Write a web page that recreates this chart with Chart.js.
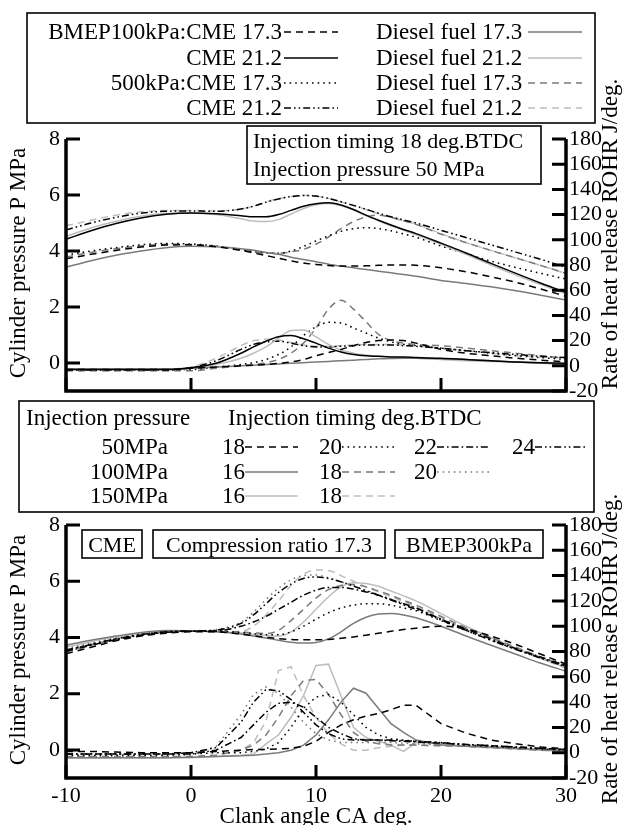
<!DOCTYPE html>
<html>
<head>
<meta charset="utf-8">
<script src="https://cdn.jsdelivr.net/npm/chart.js@4.4.1/dist/chart.umd.min.js"></script>
<style>
  body { margin: 0; background: #fff; }
  #wrap { position: relative; width: 626px; height: 825px; overflow: hidden; }
  canvas, svg { position: absolute; left: 0; top: 0; }
</style>
</head>
<body>
<div id="wrap">
  <canvas id="topChart" width="626" height="825"></canvas>
  <canvas id="bottomChart" width="626" height="825"></canvas>
  <svg id="legend" width="626" height="825" xmlns="http://www.w3.org/2000/svg"></svg>
</div>
<script>
// crank angle grid, deg
const angle = [-10, -8, -6, -4, -2, 0, 2, 4, 5, 6, 7, 8, 9, 10, 11, 12, 13, 14, 15, 16, 17, 18, 20, 22, 24, 26, 28, 30];
const xTicks = [-10, 0, 10, 20, 30];
const pTicks = [0, 2, 4, 6, 8];

// top chart: cylinder pressure, MPa
const p100Cme173 = [3.72, 3.88, 4.02, 4.14, 4.21, 4.22, 4.15, 4.02, 3.93, 3.84, 3.74, 3.65, 3.57, 3.52, 3.48, 3.46, 3.46, 3.47, 3.49, 3.5, 3.5, 3.49, 3.4, 3.26, 3.08, 2.88, 2.64, 2.38];
const p100Cme212 = [4.42, 4.72, 4.98, 5.18, 5.31, 5.36, 5.33, 5.26, 5.22, 5.22, 5.3, 5.45, 5.6, 5.69, 5.72, 5.64, 5.48, 5.28, 5.1, 4.93, 4.77, 4.62, 4.28, 3.93, 3.56, 3.2, 2.85, 2.52];
const p100Die173 = [3.42, 3.65, 3.85, 4.0, 4.12, 4.17, 4.15, 4.08, 4.03, 3.95, 3.88, 3.78, 3.7, 3.62, 3.53, 3.46, 3.4, 3.34, 3.28, 3.22, 3.16, 3.1, 2.95, 2.84, 2.72, 2.58, 2.42, 2.25];
const p100Die212 = [4.52, 4.82, 5.06, 5.24, 5.34, 5.36, 5.3, 5.15, 5.07, 5.05, 5.12, 5.32, 5.52, 5.65, 5.7, 5.62, 5.46, 5.26, 5.08, 4.9, 4.74, 4.58, 4.24, 3.88, 3.5, 3.14, 2.8, 2.46];
const p500Cme173 = [3.85, 4.0, 4.12, 4.22, 4.27, 4.25, 4.18, 4.05, 3.98, 3.93, 3.92, 4.0, 4.16, 4.36, 4.54, 4.7, 4.8, 4.83, 4.8, 4.72, 4.61, 4.49, 4.18, 3.9, 3.64, 3.41, 3.2, 3.0];
const p500Cme212 = [4.75, 5.0, 5.2, 5.35, 5.42, 5.43, 5.42, 5.5, 5.6, 5.74, 5.86, 5.94, 5.98, 5.96, 5.88, 5.76, 5.63, 5.49, 5.35, 5.22, 5.11, 5.0, 4.74, 4.48, 4.22, 3.96, 3.7, 3.42];
const p500Die173 = [3.78, 3.95, 4.08, 4.18, 4.24, 4.23, 4.17, 4.05, 3.98, 3.93, 3.92, 3.97, 4.06, 4.24, 4.5, 4.8, 5.05, 5.22, 5.28, 5.2, 5.08, 4.95, 4.6, 4.3, 4.02, 3.75, 3.48, 3.2];
const p500Die212 = [4.9, 5.1, 5.28, 5.4, 5.45, 5.45, 5.43, 5.5, 5.6, 5.75, 5.87, 5.95, 5.99, 5.96, 5.88, 5.75, 5.62, 5.48, 5.33, 5.2, 5.08, 4.96, 4.62, 4.3, 4.02, 3.75, 3.48, 3.2];

// top chart: rate of heat release, J/deg
const r100Cme173 = [-3, -3, -3, -3, -3, -2, -1, 0, 0.5, 1, 2, 3, 5, 8, 10.5, 13, 16, 18.5, 20, 20.5, 20, 18, 13, 10, 8, 6, 4.5, 3];
const r100Cme212 = [-3, -3, -3, -3, -3, -1.5, 2, 10, 15, 19.5, 23, 24, 21.5, 18, 14, 11, 9, 8, 7.5, 7, 7, 6.5, 6, 5, 4, 3, 2.5, 2];
const r100Die173 = [-2.5, -2.5, -2.5, -2.5, -2.5, -2, -1, 0, 0.5, 1, 1.5, 2, 2.5, 3, 3.5, 4, 4.5, 5, 5.5, 5.8, 6, 6, 5.5, 5, 4, 3, 2.2, 1.5];
const r100Die212 = [-3, -3, -3, -3, -3, -2, 1, 6, 10, 15, 22, 28, 28.5, 23, 17, 12.5, 10, 8.5, 7.5, 7, 6.5, 6, 5, 4, 3.5, 3, 2, 1.5];
const r500Cme173 = [-3, -3, -3, -3, -3, -3, -1, 1, 2.5, 5, 9, 15, 24, 31, 34.5, 34, 30, 26, 22, 19, 17, 16, 14, 12, 10, 8, 6.5, 5];
const r500Cme212 = [-3.5, -3.5, -3.5, -3.5, -3.5, -1.5, 4, 13, 17, 19, 19.5, 18, 16, 15, 15, 15.5, 16, 16.5, 16.5, 16.5, 16, 15.5, 14, 12, 10.5, 9, 7.5, 6.5];
const r500Die173 = [-4, -4, -4, -4, -4, -4, -2, 0, 1, 2.5, 5, 10, 18, 30, 45, 52, 45, 35, 25, 20, 18, 17, 16, 14, 12, 10, 8, 6];
const r500Die212 = [-4, -4, -4, -4, -4, -1, 6, 16, 20, 21, 20.5, 18.5, 16.5, 15.5, 15.5, 16, 16.5, 17, 17, 17, 16.5, 16, 14, 12, 10, 8, 7, 6];

// bottom chart: cylinder pressure, MPa (name = timing_injection pressure)
const bp18_50 = [3.42, 3.65, 3.88, 4.05, 4.15, 4.2, 4.2, 4.12, 4.06, 4.0, 3.96, 3.93, 3.92, 3.92, 3.93, 3.97, 4.02, 4.08, 4.15, 4.22, 4.28, 4.33, 4.4, 4.3, 4.05, 3.75, 3.4, 3.05];
const bp20_50 = [3.55, 3.75, 3.95, 4.1, 4.2, 4.22, 4.22, 4.17, 4.13, 4.1, 4.1, 4.2, 4.4, 4.65, 4.88, 5.05, 5.15, 5.2, 5.2, 5.15, 5.05, 4.95, 4.6, 4.25, 3.9, 3.58, 3.28, 2.98];
const bp22_50 = [3.5, 3.72, 3.92, 4.08, 4.18, 4.22, 4.23, 4.4, 4.55, 4.75, 5.0, 5.25, 5.5, 5.68, 5.78, 5.78, 5.72, 5.62, 5.5, 5.35, 5.2, 5.05, 4.65, 4.3, 3.95, 3.6, 3.3, 3.0];
const bp24_50 = [3.55, 3.75, 3.95, 4.1, 4.2, 4.23, 4.26, 4.5, 4.8, 5.2, 5.6, 5.9, 6.1, 6.15, 6.1, 5.98, 5.83, 5.66, 5.5, 5.33, 5.16, 5.0, 4.62, 4.25, 3.9, 3.57, 3.26, 2.95];
const bp16_100 = [3.72, 3.9, 4.05, 4.18, 4.25, 4.24, 4.2, 4.12, 4.05, 3.98, 3.9, 3.83, 3.8, 3.82, 3.95, 4.2, 4.5, 4.72, 4.83, 4.85, 4.8, 4.7, 4.4, 4.05, 3.72, 3.4, 3.08, 2.8];
const bp18_100 = [3.5, 3.72, 3.92, 4.08, 4.18, 4.22, 4.21, 4.2, 4.16, 4.14, 4.25, 4.6, 5.0, 5.4, 5.7, 5.85, 5.88, 5.8, 5.65, 5.5, 5.32, 5.15, 4.75, 4.35, 4.0, 3.65, 3.3, 3.0];
const bp20_100 = [3.6, 3.8, 3.98, 4.12, 4.2, 4.23, 4.28, 4.55, 4.9, 5.35, 5.75, 6.05, 6.2, 6.22, 6.12, 5.98, 5.84, 5.68, 5.52, 5.36, 5.2, 5.05, 4.66, 4.28, 3.92, 3.58, 3.27, 2.96];
const bp16_150 = [3.65, 3.85, 4.02, 4.15, 4.22, 4.23, 4.2, 4.16, 4.11, 4.07, 4.05, 4.2, 4.55, 5.0, 5.45, 5.8, 5.95, 5.92, 5.82, 5.65, 5.48, 5.3, 4.85, 4.4, 4.0, 3.62, 3.26, 2.92];
const bp18_150 = [3.55, 3.76, 3.95, 4.1, 4.19, 4.22, 4.21, 4.22, 4.4, 4.8, 5.3, 5.85, 6.25, 6.4, 6.38, 6.2, 6.0, 5.8, 5.62, 5.45, 5.28, 5.1, 4.7, 4.3, 3.95, 3.6, 3.25, 2.9];

// bottom chart: rate of heat release, J/deg
const br18_50 = [1, 1, 0.5, 0, 0, 0, 1, 2, 2.5, 2.5, 3, 3.5, 5, 9, 16, 22, 26, 29, 31, 34, 37.5, 37.5, 23, 15.5, 10, 7, 4.5, 3];
const br20_50 = [-2, -2, -2, -2, -2, -1, 0, 0, 1, 3, 8, 20, 35, 44, 46, 40, 30, 20, 14, 11, 10, 9, 8, 6, 5, 4, 3, 2];
const br22_50 = [-1, -1, -1, -1, -1, -1, 2, 12, 22, 32, 39, 40, 36, 28, 20, 15, 11, 10, 10, 9.5, 9, 8.5, 7.5, 6.5, 5.5, 4.5, 3.5, 2.5];
const br24_50 = [-1, -1, -1, -1, -1, 0, 4, 24, 40, 50, 49, 42, 32, 22, 15, 11, 10, 10, 10, 10, 9.5, 9, 8, 6.5, 5.5, 4.5, 3.5, 2.5];
const br16_100 = [-4, -4, -4, -4, -4, -3.5, -3, -2.5, -2, -1, 0, 2, 6, 14, 26, 40, 51, 47, 35, 23, 16, 10, 6, 5, 4.5, 3.5, 2.5, 1.5];
const br18_100 = [-3, -3, -3, -3, -3, -3, -2, 2, 6, 14, 28, 45, 57, 58, 46, 30, 16, 9, 7, 6, 6, 6, 5.5, 5, 4, 3, 2, 1.5];
const br20_100 = [-3, -3, -3, -3, -3, -2, 5, 30, 46, 52, 47, 36, 24, 15, 10, 8, 8, 8, 8, 8, 7.5, 7, 6.5, 5.5, 4.5, 3.5, 2.5, 2];
const br16_150 = [-4, -4, -4, -4, -4, -4, -3, -2, -1, 7, 14, 28, 45, 69, 70, 45, 20, 12, 9, 6, 1, 8, 7, 5, 4, 3, 2, 1];
const br18_150 = [-4, -4, -4, -4, -4, -3, -2, 2, 8, 25, 65, 68, 45, 28, 15, 7, 2, 2, 4, 5, 6, 6, 5.5, 5, 4, 3, 2, 1];

// legend texts
const topLegendLeft = ['BMEP100kPa:CME 17.3', 'CME 21.2', '500kPa:CME 17.3', 'CME 21.2'];
const topLegendRight = ['Diesel fuel 17.3', 'Diesel fuel 21.2', 'Diesel fuel 17.3', 'Diesel fuel 21.2'];
const injPressures = ['50MPa', '100MPa', '150MPa'];
const injTimings = [['18', '20', '22', '24'], ['16', '18', '20'], ['16', '18']];

const FONT = '"Liberation Serif", "Times New Roman", serif';
const STYLE = {
  dashBlack:  { color: '#000', dash: [7, 5] },
  solidBlack: { color: '#000', dash: [] },
  solidGray:  { color: '#7a7a7a', dash: [] },
  solidLight: { color: '#bdbdbd', dash: [] },
  dotBlack:   { color: '#000', dash: [1.6, 4] },
  ddBlack:    { color: '#000', dash: [7, 3, 1.6, 3] },
  dddBlack:   { color: '#000', dash: [7, 3, 1.6, 3, 1.6, 3] },
  dashGray:   { color: '#7a7a7a', dash: [7, 5] },
  dashLight:  { color: '#bdbdbd', dash: [7, 5] },
  dotGray:    { color: '#7a7a7a', dash: [1.6, 4] }
};

const topLeftStyles = ['dashBlack', 'solidBlack', 'dotBlack', 'dddBlack'];
const topRightStyles = ['solidGray', 'solidLight', 'dashGray', 'dashLight'];
const midStyles = [['dashBlack', 'dotBlack', 'ddBlack', 'dddBlack'], ['solidGray', 'dashGray', 'dotGray'], ['solidLight', 'dashLight']];

// [values, axis, style, smooth]
const topSeries = [
  [p100Cme173, 'y', 'dashBlack', true], [p100Cme212, 'y', 'solidBlack', true],
  [p100Die173, 'y', 'solidGray', true], [p100Die212, 'y', 'solidLight', true],
  [p500Cme173, 'y', 'dotBlack', true], [p500Cme212, 'y', 'dddBlack', true],
  [p500Die173, 'y', 'dashGray', true], [p500Die212, 'y', 'dashLight', true],
  [r100Cme173, 'y2', 'dashBlack', true], [r100Cme212, 'y2', 'solidBlack', true],
  [r100Die173, 'y2', 'solidGray', true], [r100Die212, 'y2', 'solidLight', true],
  [r500Cme173, 'y2', 'dotBlack', true], [r500Cme212, 'y2', 'dddBlack', true],
  [r500Die173, 'y2', 'dashGray', true], [r500Die212, 'y2', 'dashLight', true]
];
const bottomSeries = [
  [bp18_50, 'y', 'dashBlack', true], [bp20_50, 'y', 'dotBlack', true],
  [bp22_50, 'y', 'ddBlack', true], [bp24_50, 'y', 'dddBlack', true],
  [bp16_100, 'y', 'solidGray', true], [bp18_100, 'y', 'dashGray', true],
  [bp20_100, 'y', 'dotGray', true], [bp16_150, 'y', 'solidLight', true],
  [bp18_150, 'y', 'dashLight', true],
  [br18_50, 'y2', 'dashBlack', false], [br20_50, 'y2', 'dotBlack', false],
  [br22_50, 'y2', 'ddBlack', false], [br24_50, 'y2', 'dddBlack', false],
  [br16_100, 'y2', 'solidGray', false], [br18_100, 'y2', 'dashGray', false],
  [br20_100, 'y2', 'dotGray', false], [br16_150, 'y2', 'solidLight', false],
  [br18_150, 'y2', 'dashLight', false]
];

// axis lines, inward ticks and axis titles
const framePlugin = {
  id: 'frame',
  afterDraw(chart, args, opts) {
    const { ctx, chartArea: a } = chart;
    const { x, y, y2 } = chart.scales;
    ctx.save();
    ctx.strokeStyle = '#000';
    ctx.lineWidth = 3.5;
    ctx.beginPath();
    ctx.moveTo(a.left, a.top);
    ctx.lineTo(a.left, a.bottom);
    ctx.lineTo(a.right, a.bottom);
    ctx.lineTo(a.right, a.top);
    ctx.stroke();
    ctx.lineWidth = 3;
    ctx.beginPath();
    x.ticks.forEach(t => { const px = x.getPixelForValue(t.value); ctx.moveTo(px, a.bottom); ctx.lineTo(px, a.bottom - 13); });
    y.ticks.forEach(t => { const py = y.getPixelForValue(t.value); ctx.moveTo(a.left, py); ctx.lineTo(a.left + 14, py); });
    y2.ticks.forEach(t => { const py = y2.getPixelForValue(t.value); ctx.moveTo(a.right, py); ctx.lineTo(a.right - 14, py); });
    ctx.stroke();
    ctx.fillStyle = '#000';
    ctx.textAlign = 'center';
    ctx.textBaseline = 'middle';
    ctx.font = '23px ' + FONT;
    opts.titles.forEach(t => {
      ctx.save();
      ctx.translate(t.x, t.y);
      ctx.rotate(t.rot || 0);
      ctx.fillText(t.text, 0, 0);
      ctx.restore();
    });
    ctx.restore();
  }
};

function makeChart(id, series, cfg) {
  const tickFont = { family: FONT, size: 22 };
  const xH = cfg.xLabels ? 40 : 0;
  return new Chart(document.getElementById(id), {
    type: 'line',
    data: {
      datasets: series.map(([vals, axis, sty, smooth]) => ({
        data: angle.map((a, i) => ({ x: a, y: vals[i] })),
        yAxisID: axis,
        borderColor: STYLE[sty].color,
        borderDash: STYLE[sty].dash,
        borderWidth: 1.5,
        pointRadius: 0,
        fill: false,
        tension: 0,
        cubicInterpolationMode: smooth ? 'monotone' : 'default'
      }))
    },
    options: {
      responsive: false,
      animation: false,
      events: [],
      layout: { padding: { top: cfg.top, bottom: 825 - cfg.bottom - xH, left: 0, right: 0 } },
      plugins: { legend: { display: false }, tooltip: { enabled: false }, frame: { titles: cfg.titles } },
      scales: {
        x: {
          type: 'linear', min: -10, max: 30,
          afterBuildTicks: s => { s.ticks = xTicks.map(v => ({ value: v })); },
          ticks: { display: cfg.xLabels, font: tickFont, color: '#000', padding: 5, maxRotation: 0, autoSkip: false },
          grid: { display: false, drawTicks: false },
          border: { display: false },
          afterFit: s => { s.height = xH; }
        },
        y: {
          position: 'left', min: -1, max: 8,
          afterBuildTicks: s => { s.ticks = pTicks.map(v => ({ value: v })); },
          ticks: { font: tickFont, color: '#000', padding: 6, autoSkip: false },
          grid: { display: false, drawTicks: false },
          border: { display: false },
          afterFit: s => { s.width = 66; }
        },
        y2: {
          position: 'right', min: -20, max: 180,
          ticks: { stepSize: 20, font: tickFont, color: '#000', padding: 3, autoSkip: false },
          grid: { display: false, drawTicks: false },
          border: { display: false },
          afterFit: s => { s.width = 60; }
        }
      }
    },
    plugins: [framePlugin]
  });
}

const P_TITLE = 'Cylinder pressure P MPa';
const R_TITLE = 'Rate of heat release ROHR J/deg.';

makeChart('topChart', topSeries, {
  top: 139, bottom: 391, xLabels: false,
  titles: [
    { text: P_TITLE, x: 19, y: 263, rot: -Math.PI / 2 },
    { text: R_TITLE, x: 611, y: 234, rot: -Math.PI / 2 }
  ]
});
makeChart('bottomChart', bottomSeries, {
  top: 525, bottom: 778, xLabels: true,
  titles: [
    { text: P_TITLE, x: 19, y: 650, rot: -Math.PI / 2 },
    { text: R_TITLE, x: 611, y: 649, rot: -Math.PI / 2 },
    { text: 'Clank angle CA deg.', x: 316, y: 817 }
  ]
});

// legends and text boxes
const svg = document.getElementById('legend');
const NS = 'http://www.w3.org/2000/svg';
function add(tag, attrs, text) {
  const e = document.createElementNS(NS, tag);
  for (const k in attrs) e.setAttribute(k, attrs[k]);
  if (text !== undefined) e.textContent = text;
  svg.appendChild(e);
  return e;
}
function box(x, y, w, h) {
  add('rect', { x, y, width: w, height: h, fill: '#fff', stroke: '#000', 'stroke-width': 1.6 });
}
function label(x, y, text, anchor, size) {
  add('text', { x, y, 'text-anchor': anchor || 'start', 'dominant-baseline': 'central',
    'font-family': FONT, 'font-size': size || 23, fill: '#000' }, text);
}
function sample(x1, x2, y, sty) {
  add('line', { x1, x2, y1: y, y2: y, stroke: STYLE[sty].color, 'stroke-width': 1.5,
    'stroke-dasharray': STYLE[sty].dash.join(' ') || 'none' });
}

// top legend
box(27, 13, 568, 110);
[31, 57, 82, 107].forEach((cy, i) => {
  label(282, cy, topLegendLeft[i], 'end');
  sample(284, 338, cy + 1, topLeftStyles[i]);
  label(376, cy, topLegendRight[i], 'start');
  sample(528, 582, cy + 1, topRightStyles[i]);
});

// top chart condition box
box(247, 126, 294, 58);
label(253, 140, 'Injection timing 18 deg.BTDC', 'start', 22);
label(253, 168, 'Injection pressure 50 MPa', 'start', 22);

// middle legend
box(19, 401, 575, 111);
label(26, 417, 'Injection pressure', 'start');
label(228, 417, 'Injection timing deg.BTDC', 'start');
const colX = [222, 319, 414, 512];
[446, 471, 495].forEach((cy, r) => {
  label(168, cy, injPressures[r], 'end');
  injTimings[r].forEach((t, c) => {
    label(colX[c], cy, t, 'start');
    sample(colX[c] + 23, colX[c] + 76, cy + 1, midStyles[r][c]);
  });
});

// bottom chart boxes
box(82, 530, 60, 28);
label(112, 544, 'CME', 'middle', 22);
box(153, 530, 232, 28);
label(269, 544, 'Compression ratio 17.3', 'middle', 22);
box(395, 530, 148, 28);
label(469, 544, 'BMEP300kPa', 'middle', 22);
</script>
</body>
</html>
